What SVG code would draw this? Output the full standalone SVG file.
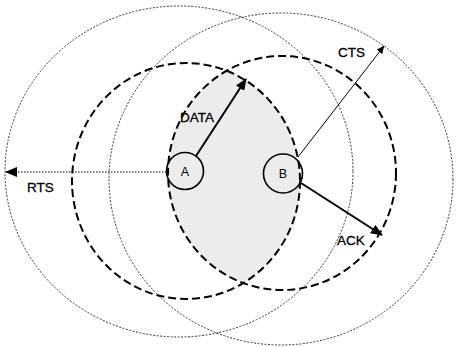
<svg xmlns="http://www.w3.org/2000/svg" width="456" height="347" viewBox="0 0 456 347">
<style>
.big{fill:none;stroke:#333;stroke-width:1;stroke-dasharray:2 1.5}
.dash{fill:none;stroke:#000;stroke-width:2;stroke-dasharray:8 4}
.node{fill:none;stroke:#000;stroke-width:1.6}
.lbl{font-family:"Liberation Sans",Arial,sans-serif;font-size:13.5px;fill:#000;stroke:#000;stroke-width:0.3}
.nl{font-family:"Liberation Sans",Arial,sans-serif;font-size:12.5px;fill:#000;text-anchor:middle}
</style>
<defs>
<marker id="ah" markerUnits="userSpaceOnUse" markerWidth="12" markerHeight="10" refX="11" refY="5" orient="auto"><path d="M0,0 L12,5 L0,10 Z" fill="#000"/></marker>
<marker id="ahs" markerUnits="userSpaceOnUse" markerWidth="8" markerHeight="7" refX="7.5" refY="3.5" orient="auto"><path d="M0,0 L8,3.5 L0,7 Z" fill="#000"/></marker>
<clipPath id="clipA"><ellipse cx="186" cy="181" rx="114" ry="118"/></clipPath>
</defs>
<rect width="456" height="347" fill="#fff"/>
<g id="shade">
<ellipse cx="282" cy="173" rx="114" ry="117" fill="#ececec" clip-path="url(#clipA)"/>
</g>
<g id="ranges">
<ellipse class="big" cx="179" cy="171.5" rx="174" ry="165.5"/>
<ellipse class="big" cx="281" cy="179" rx="172" ry="166"/>
<ellipse class="dash" cx="186" cy="181" rx="114" ry="118"/>
<ellipse class="dash" cx="282" cy="173" rx="114" ry="117"/>
</g>
<g id="connectors">
<line x1="166.5" y1="172" x2="6" y2="172" stroke="#000" stroke-width="1.2" stroke-dasharray="1.5 1.5" marker-end="url(#ah)"/>
<line x1="196" y1="156" x2="246" y2="79" stroke="#000" stroke-width="2" marker-end="url(#ah)"/>
<line x1="298" y1="157" x2="384" y2="46" stroke="#000" stroke-width="1" marker-end="url(#ahs)"/>
<line x1="301" y1="183" x2="382" y2="235" stroke="#000" stroke-width="2" marker-end="url(#ah)"/>
<text class="lbl" x="27" y="192">RTS</text>
<text class="lbl" x="180" y="122">DATA</text>
<text class="lbl" x="338" y="57">CTS</text>
<text class="lbl" x="337" y="245">ACK</text>
</g>
<g id="nodeA">
<circle class="node" cx="185" cy="171" r="18.5"/>
<text class="nl" x="185" y="176">A</text>
</g>
<g id="nodeB">
<circle class="node" cx="283" cy="173.5" r="19.5"/>
<text class="nl" x="283" y="178">B</text>
</g>
</svg>
